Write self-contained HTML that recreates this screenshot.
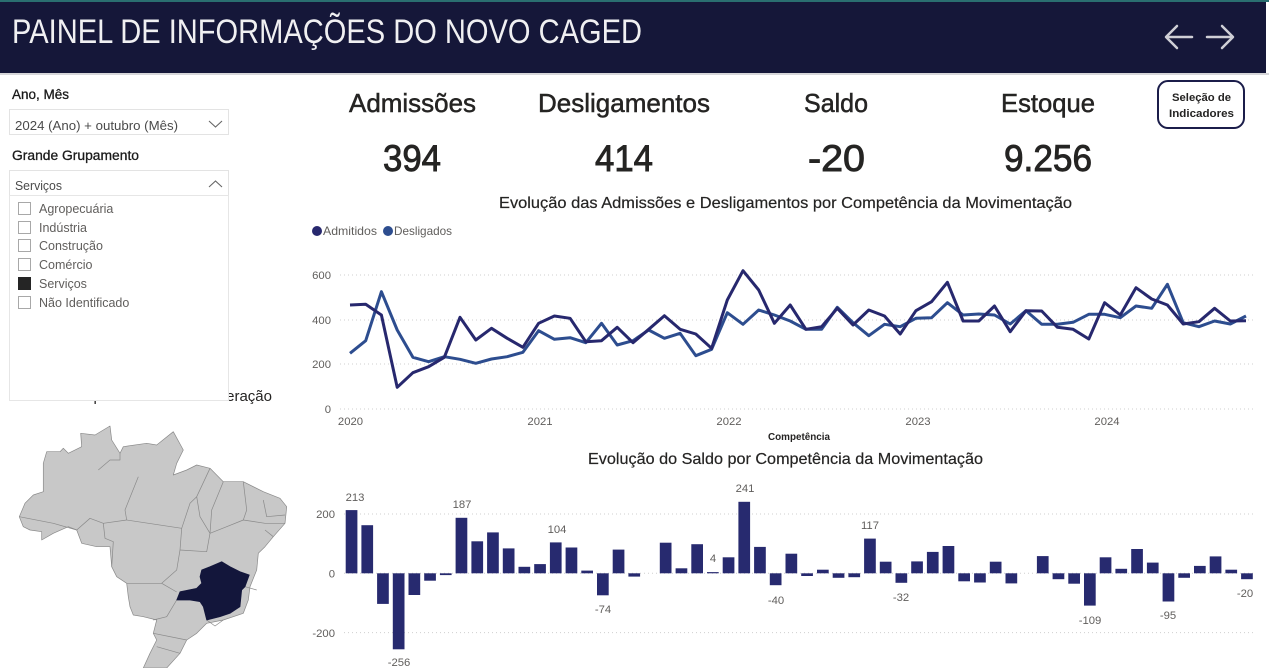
<!DOCTYPE html>
<html><head><meta charset="utf-8"><style>
html,body{margin:0;padding:0;background:#fff;width:1269px;height:668px;overflow:hidden}
svg{display:block}
text{font-family:"Liberation Sans",sans-serif}
</style></head><body>
<svg width="1269" height="668" viewBox="0 0 1269 668" xmlns="http://www.w3.org/2000/svg">
<rect x="0" y="0" width="1269" height="668" fill="#fff"/>
<!-- Header -->
<rect x="0" y="0" width="1266" height="73" fill="#151739"/>
<rect x="0" y="0" width="1269" height="2" fill="#2a6f70"/>
<rect x="0" y="73" width="1269" height="2" fill="#d6d6d9"/>
<text x="12" y="43" font-size="34" fill="#f0f0f2" textLength="630" lengthAdjust="spacingAndGlyphs">PAINEL DE INFORMAÇÕES DO NOVO CAGED</text>
<g stroke="#cfcfd6" stroke-width="2.5" fill="none" stroke-linecap="round" stroke-linejoin="round">
<line x1="1167" y1="37" x2="1192" y2="37"/><polyline points="1177,26 1166,37 1177,48"/>
<line x1="1207" y1="37" x2="1232" y2="37"/><polyline points="1222,26 1233,37 1222,48"/>
</g>
<!-- KPIs -->
<g fill="#252423" stroke="#252423" stroke-width="0.5">
<text x="349" y="112" font-size="26" textLength="127" lengthAdjust="spacingAndGlyphs">Admissões</text>
<text x="538" y="112" font-size="26" textLength="172" lengthAdjust="spacingAndGlyphs">Desligamentos</text>
<text x="804" y="112" font-size="26" textLength="64" lengthAdjust="spacingAndGlyphs">Saldo</text>
<text x="1001" y="112" font-size="26" textLength="94" lengthAdjust="spacingAndGlyphs">Estoque</text>
</g>
<g fill="#252423" stroke="#252423" stroke-width="0.9">
<text x="383" y="171" font-size="37" textLength="58" lengthAdjust="spacingAndGlyphs">394</text>
<text x="595" y="171" font-size="37" textLength="58" lengthAdjust="spacingAndGlyphs">414</text>
<text x="808" y="171" font-size="37" textLength="57" lengthAdjust="spacingAndGlyphs">-20</text>
<text x="1004" y="171" font-size="37" textLength="88" lengthAdjust="spacingAndGlyphs">9.256</text>
</g>
<!-- Button -->
<rect x="1158" y="81" width="86" height="47" rx="10" ry="10" fill="#fff" stroke="#1b1d4a" stroke-width="2"/>
<text x="1172" y="101" font-size="11" font-weight="bold" fill="#252423" textLength="59" lengthAdjust="spacingAndGlyphs">Seleção de</text>
<text x="1169" y="117" font-size="11" font-weight="bold" fill="#252423" textLength="65" lengthAdjust="spacingAndGlyphs">Indicadores</text>

<!-- Left panel -->
<text x="12" y="99" font-size="13.5" fill="#1a1a1a" stroke="#1a1a1a" stroke-width="0.3" textLength="57" lengthAdjust="spacingAndGlyphs">Ano, Mês</text>
<rect x="9.5" y="109.5" width="219" height="25" fill="#fff" stroke="#e3e3e3"/>
<text x="15" y="130" font-size="12.5" fill="#4a4a4a" textLength="163" lengthAdjust="spacingAndGlyphs">2024 (Ano) + outubro (Mês)</text>
<polyline points="209,121 215.5,127 222,121" fill="none" stroke="#666" stroke-width="1.1"/>
<text x="12" y="160" font-size="13.5" fill="#1a1a1a" stroke="#1a1a1a" stroke-width="0.3" textLength="127" lengthAdjust="spacingAndGlyphs">Grande Grupamento</text>

<!-- Map title (partially hidden) -->
<text x="272" y="401" font-size="15" fill="#252423" text-anchor="end">Saldo por Unidade da Federação</text>

<rect x="9.5" y="170.5" width="219" height="25" fill="#fff" stroke="#e3e3e3"/>
<text x="15" y="190" font-size="12.5" fill="#4a4a4a" textLength="47" lengthAdjust="spacingAndGlyphs">Serviços</text>
<polyline points="209,187 215.5,181 222,187" fill="none" stroke="#666" stroke-width="1.1"/>
<rect x="9.5" y="195.5" width="219" height="205" fill="#fff" stroke="#e6e6e6"/>
<g stroke="#a8a8a8" stroke-width="1" fill="#fff">
<rect x="18.5" y="202.5" width="12" height="12"/>
<rect x="18.5" y="221.5" width="12" height="12"/>
<rect x="18.5" y="239.5" width="12" height="12"/>
<rect x="18.5" y="258.5" width="12" height="12"/>
<rect x="18.5" y="296.5" width="12" height="12"/>
</g>
<rect x="18" y="277" width="13" height="13" fill="#252525"/>
<g font-size="12.5" fill="#605e5c">
<text x="39" y="213">Agropecuária</text>
<text x="39" y="232">Indústria</text>
<text x="39" y="250">Construção</text>
<text x="39" y="269">Comércio</text>
<text x="39" y="288">Serviços</text>
<text x="39" y="307">Não Identificado</text>
</g>

<!-- Map -->
<g stroke="#8a8a8a" stroke-width="0.7" stroke-linejoin="round">
<path fill="#c8c8c8" d="M19.3,516.7 L25,503.3 L33.3,495 L43.3,491.7 L43.3,463.3 L46.7,451.7 L60,451.7 L63.3,448.3 L68.3,453.3 L81.7,446.7 L80.7,433.3 L95,435 L110,426 L111.7,440 L120,453.3 L123.3,446.7 L146.7,443.3 L156.7,445 L173.3,431.7 L183.3,450 L176.7,463.3 L173.3,475 L186.7,470 L196.7,465 L210,468.3 L223.3,481.7 L243.3,481.7 L263.3,491.7 L280,498.3 L286.7,506.7 L285,523.3 L273.3,536.7 L265,546.7 L258.3,553.3 L256.7,570 L250,586.7 L248.3,600 L243.3,613.3 L223.3,620 L206.7,623.3 L196.7,633.3 L186.7,640 L180,653.3 L166.7,668 L143.3,668 L150,653.3 L156.7,640 L153.3,633.3 L156.7,620 L143.3,616.7 L133.3,615 L130,606.7 L128.3,596.7 L126.7,583.3 L116.7,576.7 L111.7,566.7 L110,546.7 L96.7,546.7 L81.7,543.3 L76.7,530 L68.3,526.7 L53.3,533.3 L41.7,540 L41.7,531.7 L30,530 L23.3,526.7 Z"/>
<g fill="none">
<polyline points="138.3,476.7 125,510 126.7,520"/>
<polyline points="98.3,470 110,460 120,460 120,453.3"/>
<polyline points="19.3,516.7 53.3,523.3 76.7,530"/>
<polyline points="76.7,530 90,518.3 103.3,523.3 126.7,520"/>
<polyline points="103.3,523.3 105,538.3 113.3,541.7 111.7,566.7"/>
<polyline points="126.7,520 181.7,528.3"/>
<polyline points="181.7,528.3 190,503.3 196.7,496.7 210,468.3"/>
<polyline points="196.7,496.7 200,516.7 210,533.3"/>
<polyline points="181.7,528.3 180,550 176.7,570 161.7,583.3 136.7,583.3 126.7,583.3"/>
<polyline points="180,550 206.7,551.7 210,533.3"/>
<polyline points="223.3,481.7 211.7,510 210,533.3"/>
<polyline points="243.3,481.7 246.7,510 243.3,520"/>
<polyline points="210,533.3 226.7,526.7 243.3,520 265,523.3"/>
<polyline points="263.3,500 266.7,516.7 285,515"/>
<polyline points="265,523.3 285,523.3"/>
<polyline points="265,530 273.3,536.7"/>
<polyline points="161.7,583.3 176.7,592"/>
<polyline points="176.7,600 166.7,616.7 153.3,620"/>
<polyline points="153.3,633.3 186.7,640"/>
<polyline points="156.7,646.7 180,653.3"/>
<polyline points="245,586.7 256.7,590"/>
<polyline points="206.7,620 215,626 223.3,620"/>
</g>
<path fill="#13163b" stroke="#13163b" d="M201.7,570 L210,566.7 L221.7,561.7 L230,566.7 L240,571.7 L249.3,575 L245,586.7 L241.7,590 L240,606.7 L230,613.3 L220,616.7 L206.7,620 L203.3,606.7 L200,601.7 L190,600 L176.7,600 L180,591.7 L196.7,588.3 L201.7,583.3 L200,576.7 Z"/>
</g>

<!-- Line chart -->
<text x="499" y="208" font-size="16" fill="#252423" stroke="#252423" stroke-width="0.2" textLength="573" lengthAdjust="spacingAndGlyphs">Evolução das Admissões e Desligamentos por Competência da Movimentação</text>
<circle cx="317" cy="231" r="5" fill="#27286e"/>
<text x="323" y="235" font-size="12" fill="#605e5c" textLength="54" lengthAdjust="spacingAndGlyphs">Admitidos</text>
<circle cx="388" cy="231" r="5" fill="#2d4d8f"/>
<text x="394" y="235" font-size="12" fill="#605e5c" textLength="58" lengthAdjust="spacingAndGlyphs">Desligados</text>
<g stroke="#cfcfcf" stroke-width="1" stroke-dasharray="1,3">
<line x1="340" y1="275" x2="1256" y2="275"/>
<line x1="340" y1="320" x2="1256" y2="320"/>
<line x1="340" y1="364" x2="1256" y2="364"/>
<line x1="340" y1="409" x2="1256" y2="409"/>
</g>
<g font-size="11.3" fill="#605e5c" text-anchor="end">
<text x="331" y="279">600</text>
<text x="331" y="324">400</text>
<text x="331" y="368">200</text>
<text x="331" y="413">0</text>
</g>
<g font-size="11.3" fill="#605e5c" text-anchor="middle">
<text x="350.5" y="425">2020</text>
<text x="540" y="425">2021</text>
<text x="729" y="425">2022</text>
<text x="918" y="425">2023</text>
<text x="1107" y="425">2024</text>
</g>
<text x="768" y="440" font-size="10" font-weight="bold" fill="#252423" textLength="62" lengthAdjust="spacingAndGlyphs">Competência</text>
<polyline fill="none" stroke="#2d4d8f" stroke-width="3" stroke-linejoin="round" points="350,353.3 365.7,340.7 381.4,291.7 397.2,330 412.9,357.3 428.6,361.7 444.3,356.7 460,359.3 475.8,363.3 491.5,359 507.2,356.7 522.9,352.3 538.6,330.7 554.4,339.3 570.1,337.7 585.8,342.7 601.5,323.3 617.2,345 633,340.7 648.7,330 664.4,338.3 680.1,333.3 695.8,355.7 711.6,349.3 727.3,312.7 743,324.3 758.7,310 774.4,315 790.2,321 805.9,329.3 821.6,329.3 837.3,307.3 853,322.7 868.8,335.7 884.5,324.3 900.2,326.7 915.9,318.3 931.6,317.7 947.4,302.7 963.1,315 978.8,314 994.5,315 1010.2,324 1026,310.7 1041.7,324.3 1057.4,324.3 1073.1,322.3 1088.8,314.3 1104.6,314.3 1120.3,317.7 1136,306 1151.7,308.3 1167.4,284.3 1183.2,322.7 1198.9,326.7 1214.6,321 1230.3,324 1246,316"/>
<polyline fill="none" stroke="#27286e" stroke-width="3" stroke-linejoin="round" points="350,305 365.7,304.3 381.4,315 397.2,387.3 412.9,372.7 428.6,366.7 444.3,357.3 460,317.3 475.8,340 491.5,328.3 507.2,338.3 522.9,347.3 538.6,323.3 554.4,316 570.1,318.3 585.8,341.7 601.5,340.7 617.2,327.3 633,342.7 648.7,329.3 664.4,315.7 680.1,329.3 695.8,334 711.6,348.3 727.3,300 743,270.7 758.7,290 774.4,323.3 790.2,305 805.9,329.3 821.6,326.7 837.3,308.3 853,325 868.8,310 884.5,316 900.2,334 915.9,310.7 931.6,301.7 947.4,282.3 963.1,321 978.8,321 994.5,306 1010.2,331.7 1026,310.7 1041.7,311 1057.4,327.3 1073.1,329.3 1088.8,339 1104.6,302.7 1120.3,315 1136,287.7 1151.7,299 1167.4,305 1183.2,324 1198.9,321.7 1214.6,308.3 1230.3,321 1246,320.7"/>

<!-- Bar chart -->
<text x="588" y="464" font-size="16" fill="#252423" stroke="#252423" stroke-width="0.2" textLength="395" lengthAdjust="spacingAndGlyphs">Evolução do Saldo por Competência da Movimentação</text>
<g stroke="#cfcfcf" stroke-width="1" stroke-dasharray="1,3">
<line x1="344" y1="514" x2="1254" y2="514"/>
<line x1="344" y1="573.3" x2="1254" y2="573.3"/>
<line x1="344" y1="632.6" x2="1254" y2="632.6"/>
</g>
<g font-size="11.3" fill="#605e5c" text-anchor="end">
<text x="335" y="518">200</text>
<text x="335" y="577.5">0</text>
<text x="335" y="637">-200</text>
</g>
<g fill="#272a6f">
<rect x="345.7" y="510.1" width="11.7" height="63.2"/>
<rect x="361.4" y="525.2" width="11.7" height="48.1"/>
<rect x="377.1" y="573.3" width="11.7" height="30.6"/>
<rect x="392.8" y="573.3" width="11.7" height="76"/>
<rect x="408.5" y="573.3" width="11.7" height="21.7"/>
<rect x="424.2" y="573.3" width="11.7" height="7.4"/>
<rect x="439.9" y="573.3" width="11.7" height="1.8"/>
<rect x="455.6" y="517.8" width="11.7" height="55.5"/>
<rect x="471.4" y="541.3" width="11.7" height="32"/>
<rect x="487.1" y="532.4" width="11.7" height="40.9"/>
<rect x="502.8" y="548.4" width="11.7" height="24.9"/>
<rect x="518.5" y="566.8" width="11.7" height="6.5"/>
<rect x="534.2" y="564.1" width="11.7" height="9.2"/>
<rect x="549.9" y="542.4" width="11.7" height="30.9"/>
<rect x="565.6" y="547.5" width="11.7" height="25.8"/>
<rect x="581.3" y="570.6" width="11.7" height="2.7"/>
<rect x="597" y="573.3" width="11.7" height="22"/>
<rect x="612.7" y="549.6" width="11.7" height="23.7"/>
<rect x="628.4" y="573.3" width="11.7" height="3.3"/>
<rect x="659.8" y="542.7" width="11.7" height="30.6"/>
<rect x="675.6" y="568.3" width="11.7" height="5"/>
<rect x="691.3" y="544.2" width="11.7" height="29.1"/>
<rect x="707" y="572.1" width="11.7" height="1.2"/>
<rect x="722.7" y="557.3" width="11.7" height="16"/>
<rect x="738.4" y="501.8" width="11.7" height="71.5"/>
<rect x="754.1" y="546.9" width="11.7" height="26.4"/>
<rect x="769.8" y="573.3" width="11.7" height="11.9"/>
<rect x="785.5" y="553.7" width="11.7" height="19.6"/>
<rect x="801.2" y="573.3" width="11.7" height="2.7"/>
<rect x="817" y="569.7" width="11.7" height="3.6"/>
<rect x="832.7" y="573.3" width="11.7" height="4.5"/>
<rect x="848.4" y="573.3" width="11.7" height="3.9"/>
<rect x="864.1" y="538.6" width="11.7" height="34.7"/>
<rect x="879.8" y="561.7" width="11.7" height="11.6"/>
<rect x="895.5" y="573.3" width="11.7" height="9.5"/>
<rect x="911.2" y="561.4" width="11.7" height="11.9"/>
<rect x="926.9" y="551.9" width="11.7" height="21.4"/>
<rect x="942.6" y="546" width="11.7" height="27.3"/>
<rect x="958.3" y="573.3" width="11.7" height="8"/>
<rect x="974.1" y="573.3" width="11.7" height="9.2"/>
<rect x="989.8" y="561.7" width="11.7" height="11.6"/>
<rect x="1005.5" y="573.3" width="11.7" height="10.1"/>
<rect x="1036.9" y="556.1" width="11.7" height="17.2"/>
<rect x="1052.6" y="573.3" width="11.7" height="5.9"/>
<rect x="1068.3" y="573.3" width="11.7" height="10.4"/>
<rect x="1084" y="573.3" width="11.7" height="32.3"/>
<rect x="1099.7" y="557.3" width="11.7" height="16"/>
<rect x="1115.4" y="568.8" width="11.7" height="4.5"/>
<rect x="1131.2" y="549" width="11.7" height="24.3"/>
<rect x="1146.9" y="562.6" width="11.7" height="10.7"/>
<rect x="1162.6" y="573.3" width="11.7" height="28.2"/>
<rect x="1178.3" y="573.3" width="11.7" height="4.5"/>
<rect x="1194" y="565.9" width="11.7" height="7.4"/>
<rect x="1209.7" y="556.4" width="11.7" height="16.9"/>
<rect x="1225.4" y="569.7" width="11.7" height="3.6"/>
<rect x="1241.1" y="573.3" width="11.7" height="5.9"/>
</g>
<g font-size="11.3" fill="#605e5c" text-anchor="middle">
<text x="355" y="501">213</text>
<text x="399" y="666">-256</text>
<text x="462" y="508">187</text>
<text x="557" y="533">104</text>
<text x="603" y="613">-74</text>
<text x="713" y="562">4</text>
<text x="745" y="492">241</text>
<text x="776" y="604">-40</text>
<text x="870" y="529">117</text>
<text x="901" y="601">-32</text>
<text x="1090" y="624">-109</text>
<text x="1168" y="619">-95</text>
<text x="1245" y="597">-20</text>
</g>
</svg>
</body></html>
